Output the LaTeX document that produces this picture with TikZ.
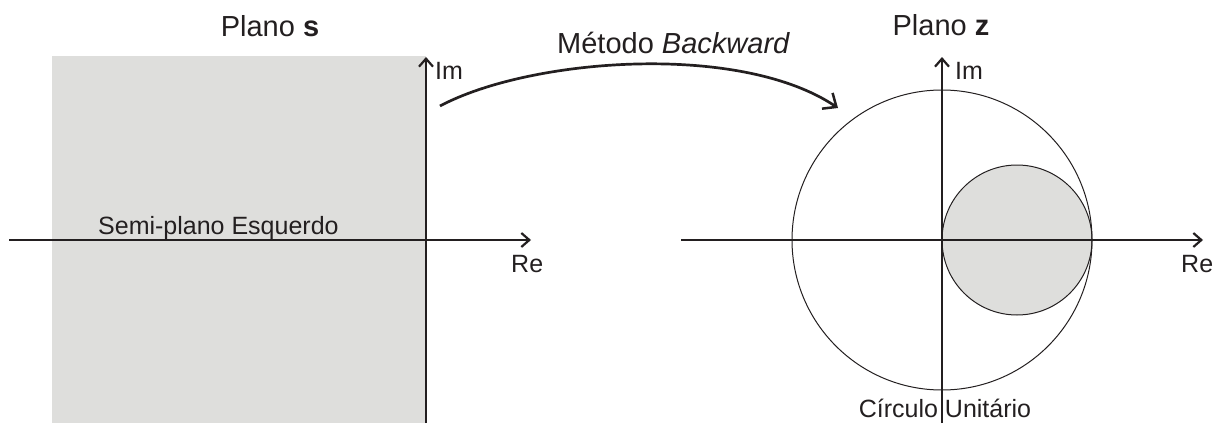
\documentclass[tikz,border=0pt]{standalone}
\usepackage{fontspec}
\setmainfont{Liberation Sans}
\usetikzlibrary{arrows.meta}
\definecolor{ink}{HTML}{231F20}
\definecolor{planefill}{HTML}{DEDEDC}
\begin{document}
\begin{tikzpicture}[x=1pt,y=-1pt,
  axis/.style={draw=ink,line width=2.2pt,-{Straight Barb[length=8pt,width=14pt,line width=2.2pt]}},
  mapping/.style={draw=ink,line width=2.7pt,-{Straight Barb[length=11pt,width=19pt,line width=2.5pt]}},
  thin circle/.style={draw=ink,line width=1pt},
  lbl/.style={inner sep=0pt,text=ink,font=\fontsize{25}{30}\selectfont},
  ttl/.style={inner sep=0pt,text=ink,font=\fontsize{29}{34}\selectfont}]
\useasboundingbox (0,0) rectangle (1222,423);
% left plane
\fill[planefill] (52,56) rectangle (426,423);
\coordinate (sx0) at (9,240);
\coordinate (sx1) at (531,240);
\coordinate (sy0) at (426,423);
\coordinate (sy1) at (426,57);
\draw[axis] (sx0) -- (sx1);
\draw[axis] (sy0) -- (sy1);
\node[ttl,anchor=base] (plas) at (270,36) {Plano \textbf{s}};
\node[lbl,anchor=base west] (ims) at (435,79) {Im};
\node[lbl,anchor=base west] (res) at (511,272) {Re};
\node[lbl,anchor=base west] (semi) at (98,234) {Semi-plano Esquerdo};
% right plane
\coordinate (c0) at (942,240);
\coordinate (c1) at (1017,240);
\fill[planefill] (c1) circle[radius=75];
\draw[thin circle] (c1) circle[radius=75];
\draw[thin circle] (c0) circle[radius=150];
\coordinate (zx0) at (681,240);
\coordinate (zx1) at (1203,240);
\coordinate (zy0) at (942,423);
\coordinate (zy1) at (942,57);
\draw[axis] (zx0) -- (zx1);
\draw[axis] (zy0) -- (zy1);
\node[ttl,anchor=base] (plaz) at (941,35) {Plano \textbf{z}};
\node[lbl,anchor=base west] (imz) at (955,79) {Im};
\node[lbl,anchor=base west] (rez) at (1181,272) {Re};
\node[lbl,anchor=base] (circ) at (945,417) {Círculo Unitário};
% mapping arrow
\node[ttl,anchor=base west] (meth) at (557,53) {Método \textit{Backward}};
\coordinate (m0) at (440,106);
\coordinate (m1) at (838,108);
\draw[mapping] (m0) .. controls (530,58) and (740,42) .. (m1);
\end{tikzpicture}
\end{document}
